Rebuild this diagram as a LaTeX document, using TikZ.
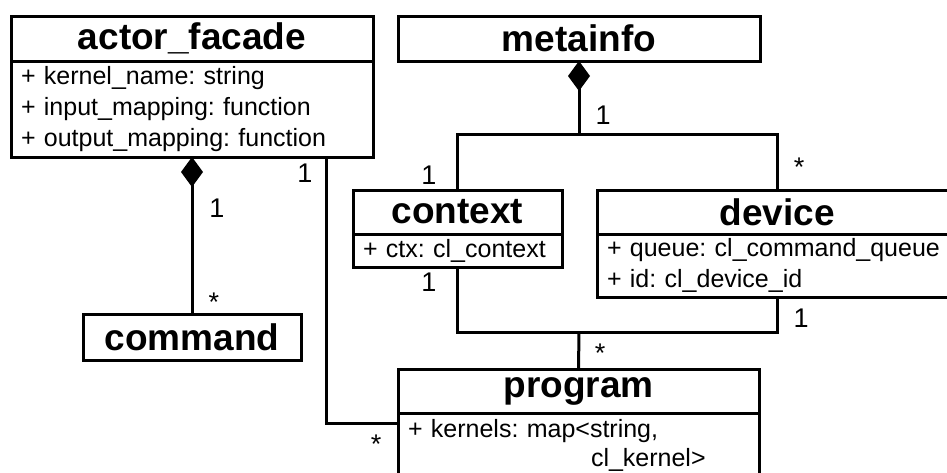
\documentclass[tikz,border=0pt]{standalone}
\usepackage{fontspec}
\setmainfont{Liberation Sans}
\usetikzlibrary{arrows.meta,positioning}
\frenchspacing

\tikzset{
    umlhead/.style={draw, line width=3pt, inner sep=0pt, outer sep=0pt,
        font=\fontsize{37}{44}\selectfont\bfseries},
    umlattr/.style={draw, line width=3pt, inner xsep=10pt, inner ysep=0pt,
        outer sep=0pt, align=left, font=\fontsize{25}{31}\selectfont},
    assoc/.style={line width=3pt},
    comp/.style={-{Diamond[length=30pt,width=22pt]}},
    mult/.style={inner sep=0pt, font=\fontsize{27}{30}\selectfont}
}

\begin{document}
\begin{tikzpicture}[x=1pt, y=-1pt, line join=miter]
    \useasboundingbox (0,0) rectangle (947,472);
    \clip (0,0) rectangle (947,472);

    % classes
    \node[umlhead, minimum width=362pt, minimum height=45pt] (facade) at (192,38.5) {actor\_facade};
    \node[umlattr, text width=342pt, minimum height=96pt, below=0pt of facade] (facadeattr)
        {+ kernel\_name: string\\+ input\_mapping: function\\+ output\_mapping: function};

    \node[umlhead, minimum width=362pt, minimum height=45pt] (metainfo) at (579,38.5) {metainfo};

    \node[umlhead, minimum width=218pt, minimum height=46pt] (command) at (192,337) {command};

    \node[umlhead, minimum width=209pt, minimum height=44pt] (context) at (457.5,212) {context};
    \node[umlattr, text width=189pt, minimum height=33pt, below=0pt of context] (contextattr)
        {+ ctx: cl\_context};

    \node[umlhead, minimum width=360pt, minimum height=44pt] (device) at (777,212) {device};
    \node[umlattr, text width=340pt, minimum height=63pt, below=0pt of device] (deviceattr)
        {+ queue: cl\_command\_queue\\+ id: cl\_device\_id};

    \node[umlhead, minimum width=361pt, minimum height=44pt] (program) at (578.5,391) {program};
    \node[umlattr, text width=341pt, minimum height=64pt, below=0pt of program] (programattr)
        {+ kernels: map<string,\\[-2pt]\hspace*{183pt}cl\_kernel>};

    % junctions
    \coordinate (metajoin) at (579,134);
    \coordinate (progjoin) at (579,332);

    % connectors
    \draw[assoc, comp] (command.north) -- (facadeattr.south);
    \draw[assoc] ([xshift=-47pt]facadeattr.south east) |- ([yshift=-10pt]programattr.north west);
    \draw[assoc, comp] (metajoin) -- (metainfo.south);
    \draw[assoc] (context.north) |- (metajoin) -| (device.north);
    \draw[assoc] (contextattr.south) |- (progjoin) -| (deviceattr.south);
    \draw[assoc] (progjoin) -- (program.north);

    % multiplicities
    \node[mult] (m1) at (217,208) {1};
    \node[mult] (m2) at (214,302) {*};
    \node[mult] (m3) at (305,173) {1};
    \node[mult] (m4) at (376,444) {*};
    \node[mult] (m5) at (603,115) {1};
    \node[mult] (m6) at (429,175) {1};
    \node[mult] (m7) at (799,167) {*};
    \node[mult] (m8) at (429,282) {1};
    \node[mult] (m9) at (801,318) {1};
    \node[mult] (m10) at (600,353) {*};
\end{tikzpicture}
\end{document}
